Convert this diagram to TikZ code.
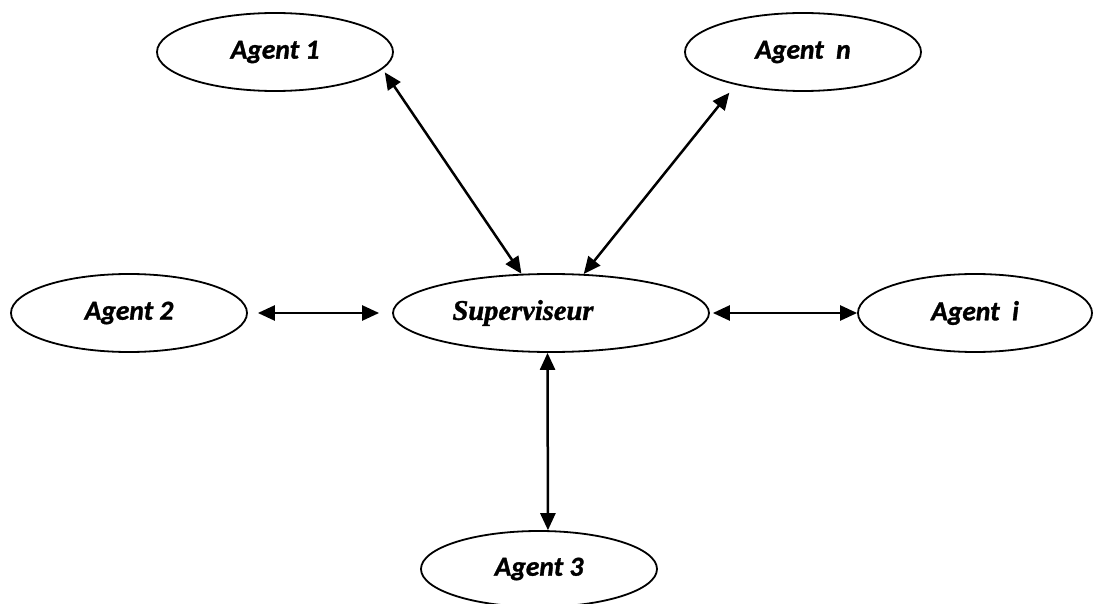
\documentclass[tikz,border=0pt]{standalone}
\usepackage{fontspec}
\newfontfamily\agentfont{Carlito}[UprightFont={* Bold Italic},FakeBold=1.2]
\newfontfamily\supfont{Liberation Serif}[UprightFont={* Bold Italic},FakeBold=1.2]
\usetikzlibrary{shapes.geometric,arrows.meta}
\tikzset{
  agentbox/.style={ellipse, draw=black, line width=1.8pt, inner sep=0pt,
    minimum width=236pt, minimum height=78pt,
    font=\agentfont\fontsize{27.5}{30}\selectfont},
  supbox/.style={ellipse, draw=black, line width=1.8pt, inner sep=0pt,
    minimum width=316pt, minimum height=78pt,
    font=\supfont\fontsize{28.5}{31}\selectfont},
  biarrow/.style={line width=2.5pt, {Triangle[length=17pt,width=15pt]}-{Triangle[length=17pt,width=15pt]}}
}
\begin{document}
\begin{tikzpicture}[x=1pt,y=-1pt]
\clip (0,0) rectangle (1096,604);
\fill[white] (0,0) rectangle (1096,604);
\node[agentbox] (a1) at (275,52) {Agent 1};
\node[agentbox] (an) at (803,52) {Agent~~n};
\node[agentbox] (a2) at (129,313) {Agent 2};
\node[supbox] (sup) at (551,313) {Superviseur\hspace*{56pt}};
\node[agentbox, minimum width=234pt] (ai) at (975,313) {Agent~~i};
\node[agentbox, minimum width=236pt, minimum height=76pt] (a3) at (539,569) {Agent 3};
\draw[biarrow, shorten >=4pt] (sup.127) -- (a1.-9.7);
\draw[biarrow, shorten >=10pt] (sup.50) -- (an.-154.6);
\draw[biarrow, shorten <=10pt, shorten >=13pt] (a2.east) -- (sup.west);
\draw[biarrow, shorten <=3pt] (sup.east) -- (ai.west);
\draw[biarrow] (sup.-95.9) -- (a3.77.8);
\end{tikzpicture}
\end{document}
